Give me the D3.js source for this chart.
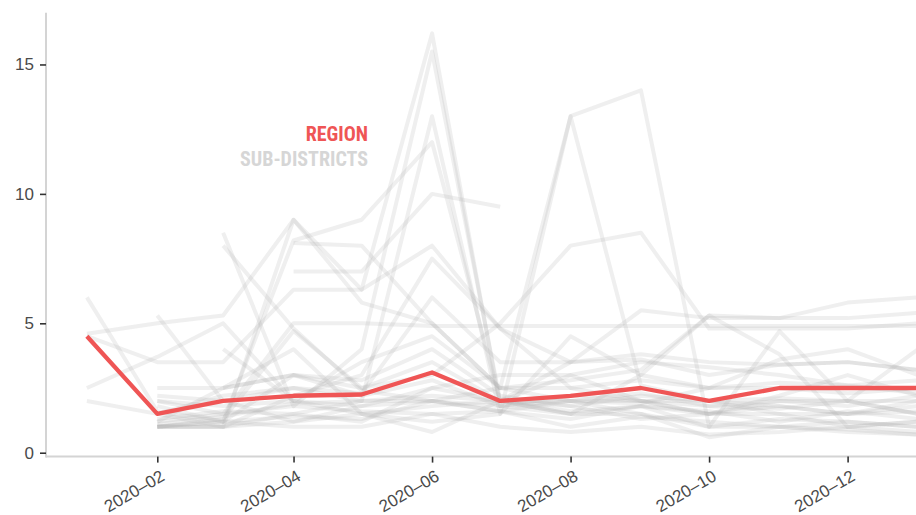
<!DOCTYPE html>
<html>
<head>
<meta charset="utf-8">
<script src="https://cdn.jsdelivr.net/npm/d3@7"></script>
<style>
  body { margin: 0; background: #fff; }
  svg { display: block; }
</style>
</head>
<body>
<div class="chart"></div>
<script>
// Months shown on the x-axis (first of each month)
const months = ["2020-01", "2020-02", "2020-03", "2020-04", "2020-05", "2020-06", "2020-07",
  "2020-08", "2020-09", "2020-10", "2020-11", "2020-12", "2021-01"];
const x_ticks = ["2020-02", "2020-04", "2020-06", "2020-08", "2020-10", "2020-12"];
const y_ticks = [0, 5, 10, 15];

// Region average
const region = [4.5, 1.5, 2.0, 2.2, 2.25, 3.1, 2.0, 2.2, 2.5, 2.0, 2.5, 2.5, 2.5];

// Sub-districts (null = no value that month)
const sub_districts = [
  [6.0, 1.6, 1.2, 1.4, 1.3, 2.0, 1.6, 1.0, 1.4, 1.2, 1.0, 0.9, 0.7],
  [4.6, 5.0, 5.3, 9.0, 6.3, 16.2, 1.8, 2.2, 2.0, 1.5, 1.8, 1.5, 1.6],
  [2.5, 3.7, 5.0, 2.0, 1.8, 2.5, 2.0, 3.0, 2.0, 1.8, 2.0, 1.8, 2.2],
  [4.5, 3.5, 3.5, 6.3, 6.3, 8.0, 4.8, 3.5, 3.8, 3.5, 3.4, 3.5, 3.2],
  [2.0, 1.5, 2.2, 2.5, 2.0, 2.0, 2.5, 2.5, 2.8, 2.5, 2.7, 2.6, 2.3],
  [null, 5.3, 2.0, 1.2, 1.5, 1.8, 2.0, 1.8, 2.2, 2.0, 1.5, 1.5, 2.0],
  [null, null, 8.5, 1.8, 4.0, 15.5, 2.0, 1.5, 1.5, 1.0, 1.3, 1.2, 1.0],
  [null, null, 8.0, 4.8, 2.4, 2.0, 1.6, 1.3, 1.8, 1.5, 1.5, 1.0, 1.2],
  [null, 1.0, 1.0, 9.0, 5.8, 5.0, 2.5, 2.0, 2.3, 1.8, 1.7, 2.0, 1.5],
  [null, 1.0, 1.2, 8.2, 9.0, 12.0, 2.0, 1.6, 1.8, 1.6, 1.2, 1.6, 1.3],
  [null, null, null, 7.0, 7.0, 10.0, 9.5, null, null, null, null, null, null],
  [null, null, null, 8.1, 8.0, 5.0, 2.5, 13.0, 2.6, 2.0, 1.8, 1.5, 1.8],
  [null, 1.2, 1.5, 5.0, 5.0, 4.9, 4.9, 4.9, 4.9, 4.9, 4.9, 4.9, 4.9],
  [null, 1.0, 1.0, 1.5, 2.0, 13.0, 1.5, 13.0, 14.0, 1.0, 1.0, 1.2, 1.0],
  [null, 1.0, 1.3, 4.7, 2.5, 3.0, 5.0, 8.0, 8.5, 4.8, 4.8, 4.8, 5.0],
  [null, 2.5, 2.5, 3.0, 2.5, 3.5, 2.0, 3.5, 5.5, 5.2, 5.2, 5.8, 6.0],
  [null, 2.2, 2.0, 2.5, 2.3, 6.0, 3.5, 3.5, 3.6, 3.0, 3.4, 3.5, 3.2],
  [null, 2.0, 1.5, 1.8, 1.6, 1.5, 1.0, 0.8, 1.0, 0.7, 0.8, 1.0, 0.8],
  [null, 1.1, 1.4, 1.9, 2.0, 2.2, 2.0, 2.0, 2.0, 2.0, 2.1, 2.0, 2.0],
  [null, 1.0, 1.0, 1.2, 1.8, 2.0, 1.8, 2.0, 1.9, 2.5, 2.5, 2.3, 2.5],
  [null, 1.2, 2.5, 4.0, 1.5, 1.2, 1.5, 4.5, 3.0, 2.5, 3.6, 4.0, 3.0],
  [null, 1.5, 1.0, 2.2, 3.0, 7.5, 4.8, 2.5, 2.0, 1.5, 2.0, 2.0, 4.0],
  [null, null, 2.5, 3.0, 2.2, 2.8, 1.8, 1.5, 3.0, 5.3, 3.8, 1.0, 1.2],
  [null, 2.0, 1.8, 2.0, 1.5, 0.8, 2.0, 1.5, 1.8, 1.0, 4.7, 2.0, 1.5],
  [null, 1.0, 1.2, 1.0, 1.0, 1.5, 1.6, 2.0, 1.5, 0.6, 1.0, 0.8, 0.7],
  [null, null, 4.0, 2.0, 3.5, 4.5, 2.5, 2.8, 3.2, 5.3, 5.2, 5.2, 5.4],
  [null, 1.3, 1.6, 1.5, 1.2, 2.5, 3.0, 3.0, 3.5, 3.3, 3.0, 2.6, 2.8],
  [null, 1.8, 1.2, 3.0, 2.8, 4.0, 2.2, 1.8, 1.3, 1.5, 2.2, 3.0, 2.2],
];

const width = 916;
const height = 515;
const red = "#ef5555";
const parse = d3.timeParse("%Y-%m");

const svg = d3.select(".chart").append("svg")
  .attr("width", width)
  .attr("height", height)
;

//
// Scales
//
const x = d3.scaleTime()
  .domain([parse("2020-01"), parse("2021-01")])
  .range([86.9, 918])
;
const y = d3.scaleLinear()
  .domain([-0.15, 17])
  .range([456.6, 12.7])
;

//
// Axes
//
const y_axis = svg.append("g")
  .attr("transform", "translate(46,0)")
  .call(d3.axisLeft(y).tickValues(y_ticks).tickSize(6).tickPadding(6))
;
const x_axis = svg.append("g")
  .attr("transform", "translate(0,456.6)")
  .call(d3.axisBottom(x).tickValues(x_ticks.map(parse)).tickSize(6).tickFormat(d3.timeFormat("%Y–%m")))
;
for (const g of [x_axis, y_axis]) {
  g.attr("font-family", "'Liberation Sans', Arial, sans-serif").attr("font-size", 17);
  g.select(".domain").attr("stroke", "#d4d4d4").attr("stroke-width", 2);
  g.selectAll(".tick line").attr("stroke", "#333").attr("stroke-width", 1.6);
  g.selectAll(".tick text").attr("fill", "#4a4a4a");
}
// extend x axis line to the right edge
x_axis.select(".domain").attr("d", `M46,0H${width}`);
y_axis.select(".domain").attr("d", "M0,12.7V457.6");

x_axis.selectAll(".tick text")
  .attr("text-anchor", "end")
  .attr("dy", null)
  .attr("y", 0)
  .attr("transform", "translate(8,23) rotate(-30)")
;

//
// Lines
//
const line = d3.line()
  .defined(d => d != null)
  .x((d, i) => x(parse(months[i])))
  .y(d => y(d))
;

svg.append("g").attr("class", "sub-districts")
  .selectAll("path")
  .data(sub_districts)
  .enter()
  .append("path")
    .attr("d", line)
    .attr("fill", "none")
    .attr("stroke", "#b0b0b0")
    .attr("stroke-opacity", 0.2)
    .attr("stroke-width", 4)
    .attr("stroke-linejoin", "round")
;

svg.append("path")
  .attr("d", line(region))
  .attr("fill", "none")
  .attr("stroke", red)
  .attr("stroke-width", 4.3)
  .attr("stroke-linejoin", "round")
;

//
// Legend
//
const legend = svg.append("g")
  .style("font-family", "'Liberation Sans Narrow', 'Roboto Condensed', Roboto, sans-serif")
  .style("font-weight", "bold")
  .style("font-size", "20px")
  .attr("text-anchor", "end")
;
legend.append("text").attr("x", 368).attr("y", 141).attr("fill", red).text("REGION");
legend.append("text").attr("x", 368).attr("y", 166).attr("fill", "#d6d6d6").text("SUB-DISTRICTS");
</script>
</body>
</html>
